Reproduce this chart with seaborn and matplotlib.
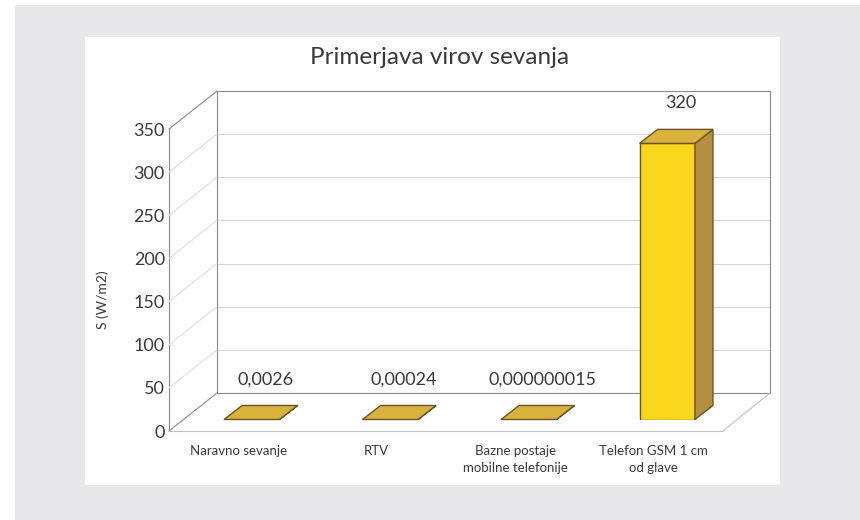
import numpy as np
import pandas as pd
import matplotlib
matplotlib.use("Agg")
import matplotlib.pyplot as plt
import seaborn as sns
from matplotlib.patches import Polygon, Rectangle
from matplotlib.lines import Line2D
from matplotlib.transforms import IdentityTransform

# Primerjava virov sevanja - gostota moci S v W/m2
categories = ["Naravno sevanje", "RTV", "Bazne postaje\nmobilne telefonije",
              "Telefon GSM 1 cm\nod glave"]
values = [0.0026, 0.00024, 0.000000015, 320]
value_labels = ["0,0026", "0,00024", "0,000000015", "320"]
y_ticks = [0, 50, 100, 150, 200, 250, 300, 350]

df = pd.DataFrame({"vir": categories, "S": values})

W, H = 860, 520


def box(left, top, right, bottom):
    # pixel box (from top-left) -> figure fraction rect
    return [left / W, 1 - bottom / H, (right - left) / W, (bottom - top) / H]


sns.set_theme(style="white")
plt.rcParams["font.family"] = ["Lato", "DejaVu Sans"]
text_col = "#3a3a3a"
frame_col = "#8a8a8a"

fig = plt.figure(figsize=(W / 100, H / 100), dpi=100, facecolor="white")
fig.add_artist(Rectangle((15 / W, 0), 1, 1 - 5 / H, transform=fig.transFigure,
                         facecolor="#e8e8eb", edgecolor="none", zorder=-2))
fig.add_artist(Rectangle((85 / W, 1 - 485 / H), 695 / W, 448 / H, transform=fig.transFigure,
                         facecolor="white", edgecolor="none", zorder=-1))

# back wall with grid
ax_back = fig.add_axes(box(217, 91, 770, 393))
ax_back.set_facecolor("none")
ax_back.set_xlim(-0.5, 3.5)
ax_back.set_ylim(0, 350)
ax_back.set_yticks(y_ticks)
ax_back.yaxis.grid(True, color="#d6d6d6", lw=0.8)
ax_back.xaxis.grid(False)
ax_back.tick_params(length=0, labelleft=False, labelbottom=False)
for s in ax_back.spines.values():
    s.set_color(frame_col)
    s.set_linewidth(0.8)

# bars sit a bit behind the front plane
ax_bar = fig.add_axes(box(182.5, 117.5, 736.5, 419.5))
sns.barplot(data=df, x="vir", y="S", ax=ax_bar, color="#f9d71c", saturation=1,
            width=0.4, edgecolor="#6b5428", linewidth=1)
ax_bar.set_xlim(-0.5, 3.5)
ax_bar.set_ylim(0, 350)
ax_bar.axis("off")

dx, dy = 18, 14
for p, lab, v in zip(ax_bar.patches, value_labels, values):
    (x0, y0), (x1, y1) = ax_bar.transData.transform(
        [(p.get_x(), p.get_y()), (p.get_x() + p.get_width(), p.get_y() + p.get_height())])
    side = Polygon([(x1, y0), (x1 + dx, y0 + dy), (x1 + dx, y1 + dy), (x1, y1)],
                   closed=True, facecolor="#b48f3f", edgecolor="#6b5428", lw=1,
                   transform=IdentityTransform(), clip_on=False, zorder=1)
    top = Polygon([(x0, y1), (x1, y1), (x1 + dx, y1 + dy), (x0 + dx, y1 + dy)],
                  closed=True, facecolor="#d9b23c", edgecolor="#6b5428", lw=1,
                  transform=IdentityTransform(), clip_on=False, zorder=3)
    ax_bar.add_patch(side)
    ax_bar.add_patch(top)
    ax_bar.annotate(lab, xy=(p.get_x() + p.get_width() / 2, v), xytext=(10, 29),
                    textcoords="offset points", ha="center", va="center",
                    fontsize=13, color=text_col)

# front plane: axis, tick labels, floor edge
ax = fig.add_axes(box(169, 129, 723, 431))
ax.set_facecolor("none")
ax.set_xlim(-0.5, 3.5)
ax.set_ylim(0, 350)
ax.set_yticks(y_ticks)
ax.set_yticklabels([str(t) for t in y_ticks], fontsize=13, color=text_col)
ax.set_xticks(range(len(categories)))
ax.set_xticklabels(categories, fontsize=9.5, color=text_col, linespacing=1.55, va="top")
ax.tick_params(axis="y", length=0, pad=3)
ax.tick_params(axis="x", length=0, pad=10)
ax.grid(False)
ax.spines["top"].set_visible(False)
ax.spines["right"].set_visible(False)
ax.spines["left"].set_color(frame_col)
ax.spines["left"].set_linewidth(0.8)
ax.spines["bottom"].set_color("#c4c4c4")
ax.spines["bottom"].set_linewidth(0.8)
ax.set_ylabel("S (W/m2)", fontsize=10, color=text_col)
ax.yaxis.set_label_coords(-0.108, 0.434)

# side wall and floor diagonals
for t in y_ticks:
    a = ax.transData.transform((-0.5, t))
    b = ax_back.transData.transform((-0.5, t))
    outer = t in (0, 350)
    fig.add_artist(Line2D([a[0], b[0]], [a[1], b[1]], transform=IdentityTransform(),
                          color=frame_col if outer else "#dedede", lw=0.8))
a = ax.transData.transform((3.5, 0))
b = ax_back.transData.transform((3.5, 0))
fig.add_artist(Line2D([a[0], b[0]], [a[1], b[1]], transform=IdentityTransform(),
                      color="#c4c4c4", lw=0.8))

fig.text(440 / W, 1 - 58 / H, "Primerjava virov sevanja", ha="center", va="center",
         fontsize=17.5, color=text_col)

fig.savefig("out.png", dpi=100, facecolor=fig.get_facecolor())
